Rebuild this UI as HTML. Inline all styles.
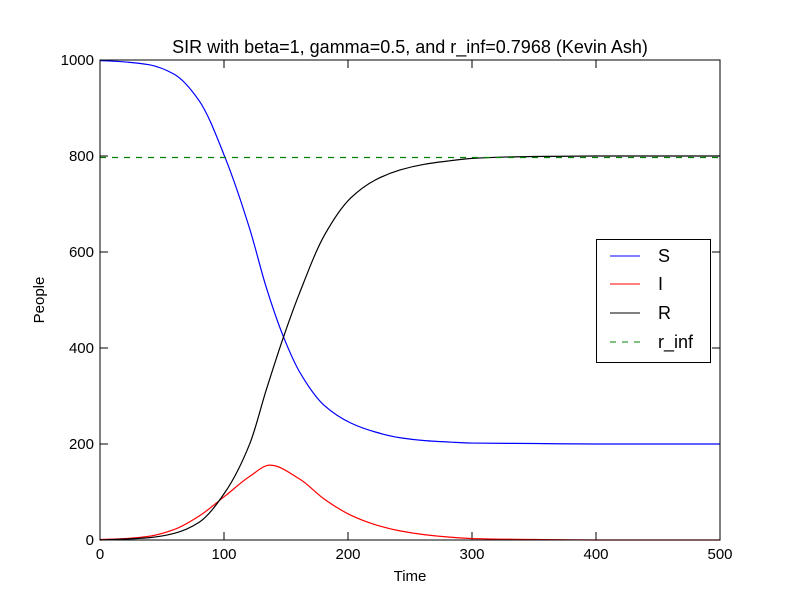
<!DOCTYPE html>
<html><head><meta charset="utf-8"><style>
body{margin:0;background:#fff}
svg{font-family:"Liberation Sans","DejaVu Sans",sans-serif}
</style></head><body>
<svg id="chart" width="800" height="600" viewBox="0 0 800 600">
<rect x="0" y="0" width="800" height="600" fill="#fff"/>
<text x="410" y="53" font-size="18" text-anchor="middle">SIR with beta=1, gamma=0.5, and r_inf=0.7968 (Kevin Ash)</text>
<g id="ticks"></g>
<g id="series"></g>
<rect x="100" y="60" width="620" height="480" fill="none" stroke="#000" stroke-width="1"/>
<text x="410" y="581" font-size="15" text-anchor="middle">Time</text>
<text x="44" y="300" font-size="15" text-anchor="middle" transform="rotate(-90 44 300)">People</text>
<g>
<rect x="596.5" y="239.5" width="114" height="123" fill="#fff" stroke="#000"/>
<line x1="610" y1="256" x2="640" y2="256" stroke="#0000ff"/>
<text x="658" y="262" font-size="18">S</text>
<line x1="610" y1="284" x2="640" y2="284" stroke="#ff0000"/>
<text x="658" y="290" font-size="18">I</text>
<line x1="610" y1="313" x2="640" y2="313" stroke="#000"/>
<text x="658" y="319" font-size="18">R</text>
<line x1="610" y1="342" x2="640" y2="342" stroke="#008000" stroke-dasharray="6,6"/>
<text x="658" y="348" font-size="18">r_inf</text>
</g>
</svg>
<script>
const xTicks=[0,100,200,300,400,500];
const yTicks=[0,200,400,600,800,1000];
const tS=[0,20,40,60,80,101,121,134,148,161,181,202,222,242,262,282,300,350,400,500];
const sVals=[999,996,990,970,915,796,646,527,423,350,280,244,225,213,207,204,202,201,200,200];
const tI=[0,20,40,60,80,101,121,137,161,181,202,222,242,262,282,300,350,400,500];
const iVals=[1,3,8,22,50,92,133,156,127,85,52,32,19,11,6,3,1,0,0];
const tR=[0,20,40,60,80,101,121,134,148,161,181,202,222,242,262,282,300,350,400,500];
const rVals=[0,2,5,14,37,100,202,312,423,515,635,712,750,771,783,790,795,799,800,800];
const rInf=[796.8];
const X=v=>100+v*620/500, Y=v=>540-v*480/1000;
const NS="http://www.w3.org/2000/svg";
const tk=document.getElementById('ticks'), sg=document.getElementById('series');
function mk(tag,attrs,parent){const e=document.createElementNS(NS,tag);for(const k in attrs)e.setAttribute(k,attrs[k]);parent.appendChild(e);return e;}
xTicks.forEach(v=>{
  const x=X(v);
  const a=mk('line',{x1:x,y1:540,x2:x,y2:532,stroke:'#000'},tk);
  
  
  const b=mk('line',{x1:x,y1:60,x2:x,y2:68,stroke:'#000'},tk);
  
  
  const t=mk('text',{x:x,y:559,'font-size':15,'text-anchor':'middle'},tk);t.textContent=v;
  
  
});
yTicks.forEach(v=>{
  const y=Y(v);
  const a=mk('line',{x1:100,y1:y,x2:108,y2:y,stroke:'#000'},tk);
  
  
  const b=mk('line',{x1:720,y1:y,x2:712,y2:y,stroke:'#000'},tk);
  
  
  const t=mk('text',{x:94,y:y+5,'font-size':15,'text-anchor':'end'},tk);t.textContent=v;
  
  
});
// monotone cubic (Fritsch-Carlson) for nonuniform spacing
function curve(ts,vs,color,name){
  const xs=ts.map(X), ys=vs.map(Y), n=xs.length;
  const dx=[],m=[];
  for(let i=0;i<n-1;i++){dx[i]=xs[i+1]-xs[i];m[i]=(ys[i+1]-ys[i])/dx[i];}
  const tg=[m[0]];
  for(let i=1;i<n-1;i++){
    if(m[i-1]*m[i]<=0){tg[i]=0;}
    else{const w1=2*dx[i]+dx[i-1],w2=dx[i]+2*dx[i-1];tg[i]=(w1+w2)/(w1/m[i-1]+w2/m[i]);}
  }
  tg[n-1]=m[n-2];
  let d='M'+xs[0]+','+ys[0];
  for(let i=0;i<n-1;i++){
    const h=dx[i]/3;
    d+=' C'+(xs[i]+h)+','+(ys[i]+tg[i]*h)+' '+(xs[i+1]-h)+','+(ys[i+1]-tg[i+1]*h)+' '+xs[i+1]+','+ys[i+1];
  }
  const p=mk('path',{d:d,fill:'none',stroke:color,'stroke-width':1.2},sg);
  
  
}
curve(tS,sVals,'#0000ff','s-line');
curve(tI,iVals,'#ff0000','i-line');
curve(tR,rVals,'#000000','r-line');
const rl=mk('line',{x1:X(0),y1:Y(rInf[0]),x2:X(500),y2:Y(rInf[0]),stroke:'#008000','stroke-dasharray':'6,6','stroke-width':1.2},sg);


</script>
</body></html>
